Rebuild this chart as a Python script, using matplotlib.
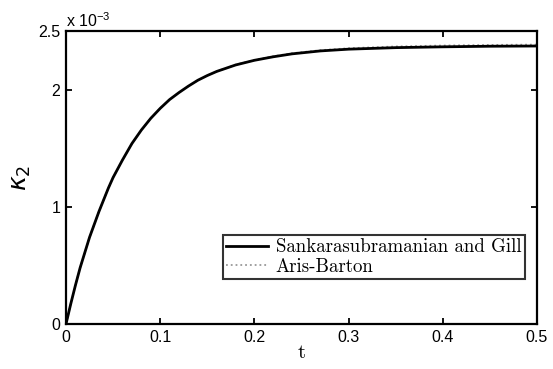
import matplotlib
matplotlib.use("Agg")
import matplotlib.pyplot as plt

# data (kappa_2 in units of 1e-3)
t = [0, 0.005, 0.01, 0.015, 0.02, 0.025, 0.03, 0.035, 0.04, 0.045, 0.05, 0.06, 0.07, 0.08,
     0.09, 0.10, 0.11, 0.12, 0.13, 0.14, 0.15, 0.16, 0.18, 0.20, 0.22, 0.24, 0.27, 0.30,
     0.35, 0.40, 0.45, 0.50]
k2_sg = [0, 0.17, 0.33, 0.48, 0.61, 0.74, 0.85, 0.96, 1.06, 1.16, 1.25, 1.40, 1.54, 1.655,
         1.755, 1.84, 1.915, 1.975, 2.03, 2.08, 2.12, 2.155, 2.21, 2.25, 2.28, 2.305, 2.33,
         2.345, 2.358, 2.365, 2.37, 2.372]
k2_ab = [0, 0.17, 0.33, 0.48, 0.61, 0.74, 0.85, 0.96, 1.06, 1.16, 1.25, 1.40, 1.54, 1.655,
         1.755, 1.84, 1.915, 1.975, 2.03, 2.08, 2.12, 2.155, 2.212, 2.253, 2.284, 2.31, 2.336,
         2.353, 2.368, 2.376, 2.381, 2.384]
xticks = [0, 0.1, 0.2, 0.3, 0.4, 0.5]
xticklabels = ["0", "0.1", "0.2", "0.3", "0.4", "0.5"]
yticks = [0, 1, 2, 2.5]
yticklabels = ["0", "1", "2", "2.5"]
labels = ["Sankarasubramanian and Gill", "Aris-Barton"]

fig = plt.figure(figsize=(5.53, 3.69), dpi=100)
ax = fig.add_axes([66/553, 1-324/369, (537-66)/553, (324-31)/369])

ax.plot(t, k2_ab, color="#999999", linestyle=":", linewidth=1.3, label=labels[1], zorder=2)
ax.plot(t, k2_sg, color="black", linestyle="-", linewidth=2.0, label=labels[0], zorder=3)
h, l = ax.get_legend_handles_labels()
leg = ax.legend([h[1], h[0]], [l[1], l[0]], loc="upper left",
                bbox_to_anchor=((223-66)/471, (324-235)/293),
                prop={"family": "cmr10", "size": 13.6}, frameon=True, fancybox=False,
                borderpad=0.18, labelspacing=0.08, handlelength=2.2, handletextpad=0.4,
                borderaxespad=0)
leg.get_frame().set_edgecolor("black")
leg.get_frame().set_linewidth(1.5)

ax.set_xlim(0, 0.5)
ax.set_ylim(0, 2.5)
ax.set_xticks(xticks)
ax.set_xticklabels(xticklabels)
ax.set_yticks(yticks)
ax.set_yticklabels(yticklabels)
ax.tick_params(direction="in", top=True, right=True, length=4, width=1.3,
               labelsize=11.5, pad=4)
for lab in ax.get_xticklabels() + ax.get_yticklabels():
    lab.set_family("Liberation Sans")
for s in ax.spines.values():
    s.set_linewidth(1.6)

ax.set_xlabel("t", family="cmr10", fontsize=15, labelpad=0)
ax.set_ylabel(r"$\kappa_2$", fontsize=18, labelpad=4)
ax.text(0.0, 1.005, r"x 10$^{\mathregular{-3}}$", transform=ax.transAxes,
        family="Liberation Sans", fontsize=11.5, ha="left", va="bottom")

fig.savefig("out.png", dpi=100)
